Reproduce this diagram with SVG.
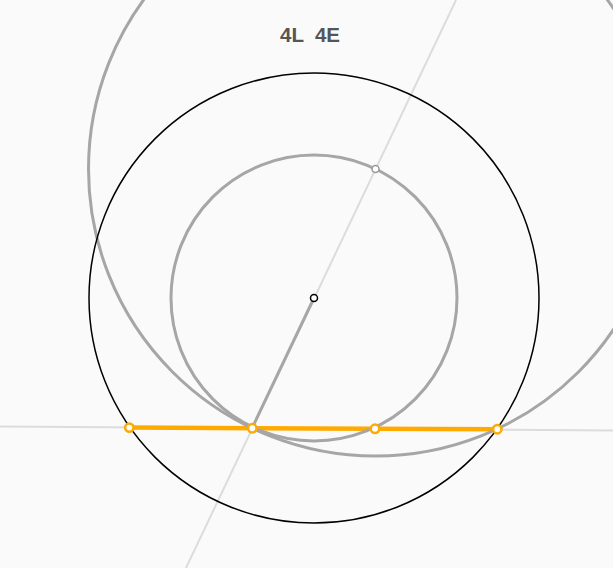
<svg xmlns="http://www.w3.org/2000/svg" width="613" height="568" viewBox="0 0 613 568">
<style>
.guide{stroke:#dcdcdc;stroke-width:2;fill:none}
.gray{stroke:#a6a6a6;stroke-width:3;fill:none}
.blk{stroke:#000;stroke-width:1.5;fill:none}
.orange{stroke:#ffaa00;stroke-width:4.5;fill:none}
.opt{fill:#fff;stroke:#ffaa00;stroke-width:2.5}
.label{font-family:"Liberation Sans",Arial,sans-serif;font-weight:bold;font-size:20.5px;fill:#555}
</style>
<rect width="613" height="568" fill="#fafafa"/>
<g id="connectors">
<line class="guide" x1="0" y1="426.5" x2="613" y2="430.5"/>
<line class="guide" x1="186" y1="568" x2="456" y2="0"/>
<line class="gray" x1="314" y1="298" x2="252" y2="428.3"/>
<line class="orange" x1="129" y1="427.6" x2="497.3" y2="429.2"/>
</g>
<g id="circle-big"><circle class="gray" cx="375.5" cy="169" r="287"/></g>
<g id="circle-inner"><circle class="gray" cx="314" cy="298" r="143"/></g>
<g id="circle-outer"><circle class="blk" cx="314" cy="298" r="225"/></g>
<g id="center"><circle cx="314" cy="298" r="3.5" fill="#fff" stroke="#000" stroke-width="1.5"/></g>
<g id="point-top"><circle cx="375.5" cy="169" r="3.5" fill="#fff" stroke="#999" stroke-width="1.5"/></g>
<g id="p1"><circle class="opt" cx="129.3" cy="427.6" r="4.2"/></g>
<g id="p2"><circle class="opt" cx="252.3" cy="428.3" r="4.2"/></g>
<g id="p3"><circle class="opt" cx="375" cy="428.8" r="4.2"/></g>
<g id="p4"><circle class="opt" cx="497.3" cy="429.2" r="4.2"/></g>
<g id="title"><text class="label" x="310" y="41.5" text-anchor="middle" xml:space="preserve">4L  4E</text></g>
</svg>
